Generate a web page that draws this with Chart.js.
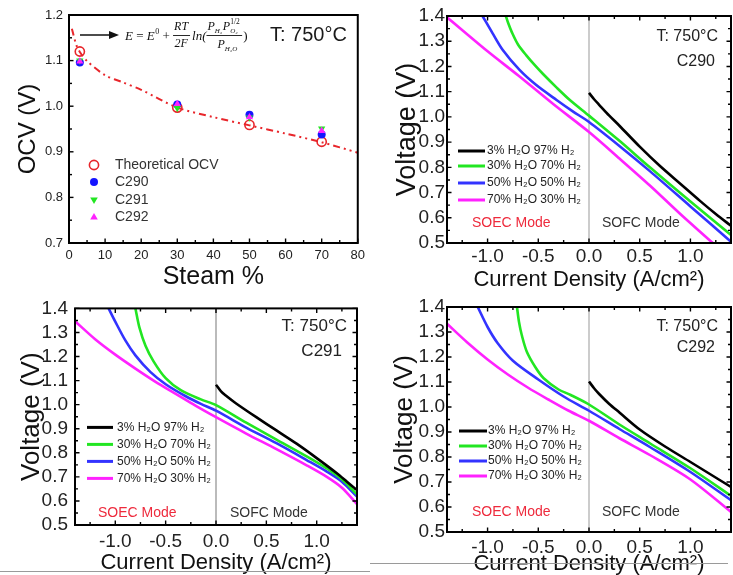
<!DOCTYPE html>
<html>
<head>
<meta charset="utf-8">
<script src="https://cdn.jsdelivr.net/npm/chart.js@4.4.0/dist/chart.umd.min.js"></script>
<style>
html, body { margin: 0; padding: 0; background: #fff; }
body { width: 733px; height: 575px; position: relative; overflow: hidden; }
.panel { position: absolute; }
#p1 { left: 0; top: 0; width: 370px; height: 290px; }
#p2 { left: 370px; top: 0; width: 363px; height: 300px; }
#p3 { left: 0; top: 290px; width: 370px; height: 285px; }
#p4 { left: 370px; top: 290px; width: 363px; height: 285px; }
.rule { position: absolute; height: 1px; background: #9a9a9a; }
</style>
</head>
<body>
<div class="panel" id="p1"><canvas id="c1"></canvas></div>
<div class="panel" id="p2"><canvas id="c2"></canvas></div>
<div class="panel" id="p3"><canvas id="c3"></canvas></div>
<div class="panel" id="p4"><canvas id="c4"></canvas></div>
<div class="rule" style="left:0;top:571px;width:370px"></div>
<div class="rule" style="left:370px;top:563px;width:358px"></div>
<script>
// ---- OCV vs steam (top left) ----
const steamPct  = [3, 30, 50, 70];
const ocvTheory = [1.120, 0.997, 0.959, 0.922];
const ocvC290   = [1.096, 1.004, 0.981, 0.938];
const ocvC291   = [1.100, 0.996, 0.975, 0.951];
const ocvC292   = [1.098, 1.005, 0.976, 0.946];
// dash-dot theoretical line
const theoryLineX = [0.8, 2, 3, 5, 10, 15, 20, 30, 40, 50, 60, 70, 80];
const theoryLineV = [1.170, 1.135, 1.119, 1.099, 1.068, 1.052, 1.036, 0.997, 0.976, 0.958, 0.940, 0.921, 0.898];
const steamTicks = [0, 10, 20, 30, 40, 50, 60, 70, 80];
const ocvTicks = [0.7, 0.8, 0.9, 1.0, 1.1, 1.2];

// ---- I-V curves, [current density, voltage] ----
const c290_h2o3  = [[0,1.095],[0.05,1.07],[0.1,1.048],[0.2,1.005],[0.3,0.965],[0.5,0.882],[0.7,0.805],[0.9,0.735],[1.1,0.665],[1.25,0.615],[1.4,0.568]];
const c290_h2o30 = [[-0.82,1.4],[-0.795,1.37],[-0.76,1.335],[-0.7,1.287],[-0.62,1.245],[-0.53,1.203],[-0.453,1.17],[-0.321,1.117],[-0.189,1.067],[0,1.005],[0.3,0.905],[0.6,0.8],[1.0,0.665],[1.4,0.532]];
const c290_h2o50 = [[-1.05,1.4],[-0.95,1.331],[-0.85,1.265],[-0.685,1.186],[-0.52,1.126],[-0.32,1.067],[-0.16,1.022],[0,0.98],[0.3,0.885],[0.6,0.785],[1.0,0.645],[1.4,0.505]];
const c290_h2o70 = [[-1.4,1.395],[-1.0,1.26],[-0.7,1.165],[-0.35,1.05],[0,0.94],[0.3,0.835],[0.6,0.728],[0.9,0.615],[1.22,0.5],[1.3,0.47]];

const c291_h2o3  = [[0,1.083],[0.05,1.055],[0.1,1.037],[0.2,1.005],[0.4,0.948],[0.6,0.893],[0.8,0.838],[1.0,0.778],[1.2,0.715],[1.3,0.68],[1.4,0.645]];
const c291_h2o30 = [[-0.8,1.4],[-0.76,1.32],[-0.7,1.245],[-0.62,1.18],[-0.5,1.11],[-0.35,1.06],[-0.15,1.022],[0,0.998],[0.3,0.925],[0.6,0.855],[0.9,0.785],[1.1,0.735],[1.25,0.69],[1.4,0.627]];
const c291_h2o50 = [[-1.066,1.4],[-1.0,1.345],[-0.9,1.267],[-0.8,1.205],[-0.65,1.135],[-0.5,1.085],[-0.3,1.035],[-0.15,1.003],[0,0.975],[0.3,0.905],[0.6,0.84],[0.9,0.77],[1.1,0.722],[1.25,0.68],[1.4,0.618]];
const c291_h2o70 = [[-1.4,1.347],[-1.2,1.272],[-1.0,1.208],[-0.8,1.15],[-0.6,1.095],[-0.4,1.045],[-0.2,0.995],[0,0.948],[0.3,0.88],[0.6,0.815],[0.9,0.748],[1.1,0.7],[1.25,0.655],[1.4,0.587]];

const c292_h2o3  = [[0,1.102],[0.05,1.075],[0.1,1.052],[0.2,1.012],[0.3,0.978],[0.5,0.91],[0.75,0.842],[1.0,0.78],[1.2,0.73],[1.4,0.68]];
const c292_h2o30 = [[-0.71,1.4],[-0.69,1.34],[-0.663,1.288],[-0.613,1.221],[-0.53,1.16],[-0.447,1.115],[-0.3,1.07],[-0.18,1.048],[0,1.01],[0.3,0.93],[0.6,0.855],[1.0,0.755],[1.4,0.645]];
const c292_h2o50 = [[-1.097,1.4],[-1.0,1.32],[-0.9,1.255],[-0.75,1.185],[-0.5,1.11],[-0.25,1.042],[0,0.985],[0.3,0.912],[0.6,0.84],[1.0,0.74],[1.4,0.627]];
const c292_h2o70 = [[-1.4,1.333],[-1.2,1.258],[-1.0,1.19],[-0.8,1.13],[-0.6,1.077],[-0.4,1.03],[-0.2,0.985],[0,0.945],[0.3,0.875],[0.6,0.808],[1.0,0.71],[1.4,0.58]];

const ivLabels = ['3% H₂O 97% H₂', '30% H₂O 70% H₂', '50% H₂O 50% H₂', '70% H₂O 30% H₂'];
const ivColors = ['#000000', '#22e622', '#3333ff', '#ff22ff'];
const currentTicks = [-1.0, -0.5, 0.0, 0.5, 1.0];
const voltageTicks = [0.5, 0.6, 0.7, 0.8, 0.9, 1.0, 1.1, 1.2, 1.3, 1.4];

const SANS = 'Arial, "Liberation Sans", sans-serif';
const SERIF = '"Liberation Serif", "Times New Roman", serif';
const RED = '#e8262b';
Chart.defaults.font.family = SANS;

// frame round the plot area, inward ticks, optional line at j = 0
const framePlugin = {
  id: 'frame',
  beforeDatasetsDraw(chart, args, opts) {
    if (!opts.zero) return;
    const { ctx, chartArea: a, scales: { x } } = chart;
    const px = x.getPixelForValue(0);
    ctx.save();
    ctx.strokeStyle = opts.zeroColor;
    ctx.lineWidth = opts.zeroWidth;
    ctx.beginPath(); ctx.moveTo(px, a.top); ctx.lineTo(px, a.bottom); ctx.stroke();
    ctx.restore();
  },
  afterDraw(chart, args, opts) {
    const { ctx, chartArea: a, scales: { x, y } } = chart;
    ctx.save();
    ctx.strokeStyle = '#000';
    ctx.lineWidth = 1.4;
    function marks(scale, horiz) {
      const vals = scale.ticks.map(t => t.value);
      const half = (vals[1] - vals[0]) / 2;
      let v = vals[0];
      while (v - half >= scale.min - 1e-9) v -= half;
      for (; v <= scale.max + 1e-9; v += half) {
        const major = vals.some(t => Math.abs(t - v) < 1e-6);
        const len = major ? 4.5 : 3;
        const p = scale.getPixelForValue(v);
        ctx.beginPath();
        if (horiz) {
          ctx.moveTo(p, a.bottom); ctx.lineTo(p, a.bottom - len);
          if (opts.allSides) { ctx.moveTo(p, a.top); ctx.lineTo(p, a.top + len); }
        } else {
          ctx.moveTo(a.left, p); ctx.lineTo(a.left + len, p);
          if (opts.allSides) { ctx.moveTo(a.right, p); ctx.lineTo(a.right - len, p); }
        }
        ctx.stroke();
      }
    }
    marks(x, true);
    marks(y, false);
    ctx.lineWidth = 2;
    ctx.strokeRect(a.left, a.top, a.right - a.left, a.bottom - a.top);
    ctx.restore();
  }
};

function drawMarker(ctx, style, x, y, r, color) {
  ctx.save();
  ctx.strokeStyle = color;
  ctx.fillStyle = color;
  ctx.beginPath();
  if (style === 'open') {
    ctx.lineWidth = 1.6;
    ctx.arc(x, y, r, 0, Math.PI * 2);
    ctx.stroke();
  } else if (style === 'circle') {
    ctx.arc(x, y, r, 0, Math.PI * 2);
    ctx.fill();
  } else {
    const s = style === 'down' ? -1 : 1;
    ctx.moveTo(x, y - s * r);
    ctx.lineTo(x + r * 0.95, y + s * r * 0.6);
    ctx.lineTo(x - r * 0.95, y + s * r * 0.6);
    ctx.closePath();
    ctx.fill();
  }
  ctx.restore();
}

// text pieces of the OCV panel: equation, temperature, legend
const ocvText = {
  id: 'ocvText',
  afterDraw(chart) {
    const ctx = chart.ctx;
    ctx.save();
    ctx.fillStyle = '#111';
    ctx.strokeStyle = '#111';
    // arrow
    ctx.lineWidth = 1.5;
    ctx.beginPath(); ctx.moveTo(80, 35); ctx.lineTo(112, 35); ctx.stroke();
    ctx.beginPath(); ctx.moveTo(119, 35); ctx.lineTo(109, 31); ctx.lineTo(109, 39); ctx.closePath(); ctx.fill();
    // equation
    ctx.textBaseline = 'alphabetic';
    ctx.textAlign = 'left';
    function put(t, x, y, size, italic) {
      ctx.font = (italic ? 'italic ' : '') + size + 'px ' + SERIF;
      ctx.fillText(t, x, y);
      return x + ctx.measureText(t).width;
    }
    let cx = put('E', 125, 40, 13, true);
    cx = put(' = ', cx, 40, 13, false);
    cx = put('E', cx, 40, 13, true);
    cx = put('0', cx + 0.5, 34, 8, false);
    cx = put(' + ', cx, 40, 13, false);
    put('RT', cx + 1, 30, 12, true);
    put('2F', cx + 1.5, 47, 12, true);
    ctx.lineWidth = 0.9;
    ctx.beginPath(); ctx.moveTo(cx, 35.5); ctx.lineTo(cx + 17, 35.5); ctx.stroke();
    cx = put('ln(', cx + 19, 40, 13, true);
    const fx = cx;
    let nx = put('P', fx + 1, 30, 12, true);
    nx = put('H₂', nx, 33, 7, true);
    nx = put('P', nx + 0.5, 30, 12, true);
    const sx = nx;
    put('1/2', sx, 24, 7.5, false);
    put('O₂', sx, 33, 7, true);
    const dx = put('P', fx + 11, 48, 12, true);
    put('H₂O', dx, 51, 7, true);
    ctx.beginPath(); ctx.moveTo(fx, 35.5); ctx.lineTo(sx + 12, 35.5); ctx.stroke();
    put(')', sx + 13, 40, 13, false);
    // temperature
    ctx.font = '20px ' + SANS;
    ctx.textBaseline = 'middle';
    ctx.fillStyle = '#1a1a1a';
    ctx.fillText('T: 750°C', 270, 35);
    // legend
    const rows = [
      ['Theoretical OCV', 'open', RED, 165],
      ['C290', 'circle', '#1414ff', 182],
      ['C291', 'down', '#22e622', 200],
      ['C292', 'up', '#ff22ff', 217]
    ];
    ctx.font = '14px ' + SANS;
    rows.forEach(r => {
      drawMarker(ctx, r[1], 94, r[3], r[1] === 'open' ? 4.6 : 4, r[2]);
      ctx.fillStyle = '#333';
      ctx.fillText(r[0], 115, r[3]);
    });
    ctx.restore();
  }
};

const pts = (xs, ys) => xs.map((x, i) => ({ x: x, y: ys[i] }));
const noGrid = { display: false, drawTicks: false };

new Chart(document.getElementById('c1'), {
  type: 'scatter',
  data: {
    datasets: [
      { label: 'Theoretical OCV', data: pts(steamPct, ocvTheory), pointStyle: 'circle', pointRadius: 4.6,
        pointBorderWidth: 1.6, borderColor: RED, backgroundColor: 'rgba(0,0,0,0)', order: 4 },
      { label: 'C290', data: pts(steamPct, ocvC290), pointStyle: 'circle', pointRadius: 4,
        pointBorderWidth: 0, borderColor: '#1414ff', backgroundColor: '#1414ff', order: 3 },
      { label: 'C291', data: pts(steamPct, ocvC291), pointStyle: 'triangle', rotation: 180, pointRadius: 4.2,
        pointBorderWidth: 0, borderColor: '#22e622', backgroundColor: '#22e622', order: 2 },
      { label: 'C292', data: pts(steamPct, ocvC292), pointStyle: 'triangle', pointRadius: 4.2,
        pointBorderWidth: 0, borderColor: '#ff22ff', backgroundColor: '#ff22ff', order: 1 },
      { label: 'fit', data: pts(theoryLineX, theoryLineV), showLine: true, borderColor: RED, borderWidth: 2,
        borderDash: [7, 4, 2, 4, 2, 4], pointRadius: 0, tension: 0.3, order: 9, clip: 0 }
    ]
  },
  options: {
    animation: false,
    responsive: true,
    maintainAspectRatio: false,
    layout: { padding: { left: 0, top: 15, right: 11, bottom: 0 } },
    plugins: { legend: { display: false }, tooltip: { enabled: false }, frame: { zero: false, allSides: false } },
    scales: {
      x: {
        type: 'linear', min: 0, max: 80,
        afterFit: s => { s.height = 47; },
        afterBuildTicks: s => { s.ticks = steamTicks.map(v => ({ value: v })); },
        grid: noGrid, border: { display: false },
        ticks: { padding: 5, color: '#222', font: { size: 13 }, maxRotation: 0, autoSkip: false },
        title: { display: true, text: 'Steam %', color: '#111', font: { size: 25, lineHeight: 1 }, padding: { top: 0, bottom: 0 } }
      },
      y: {
        type: 'linear', min: 0.7, max: 1.2,
        afterFit: s => { s.width = 69; },
        afterBuildTicks: s => { s.ticks = ocvTicks.map(v => ({ value: v })); },
        grid: noGrid, border: { display: false },
        ticks: { padding: 6, color: '#222', font: { size: 13 }, callback: v => v.toFixed(1) },
        title: { display: true, text: 'OCV (V)', color: '#111', font: { size: 24 }, padding: { top: 14, bottom: 0 } }
      }
    }
  },
  plugins: [framePlugin, ocvText]
});

function ivPanel(canvasId, cell, curves, L) {
  const ivText = {
    id: 'ivText',
    afterDraw(chart) {
      const { ctx, chartArea: a, scales: { x } } = chart;
      const x0 = x.getPixelForValue(0);
      ctx.save();
      ctx.textBaseline = 'middle';
      ctx.textAlign = 'right';
      ctx.fillStyle = '#222';
      ctx.font = L.tSize + 'px ' + SANS;
      ctx.fillText('T: 750°C', a.right - L.tRight, a.top + L.tTop);
      ctx.fillText(cell, a.right - L.cRight, a.top + L.cTop);
      ctx.textAlign = 'left';
      ctx.font = '12px ' + SANS;
      ivLabels.forEach((lab, i) => {
        const yy = a.top + L.ly[i];
        ctx.strokeStyle = ivColors[i];
        ctx.lineWidth = 3;
        ctx.beginPath(); ctx.moveTo(a.left + L.lx0, yy); ctx.lineTo(a.left + L.lx1, yy); ctx.stroke();
        ctx.fillStyle = '#222';
        ctx.fillText(lab, a.left + L.tx, yy);
      });
      ctx.font = '14px ' + SANS;
      ctx.fillStyle = '#ee2a3c';
      ctx.fillText('SOEC Mode', a.left + L.soecX, a.top + L.modeY);
      ctx.fillStyle = '#333';
      ctx.fillText('SOFC Mode', x0 + L.sofcDx, a.top + L.modeY);
      ctx.restore();
    }
  };
  new Chart(document.getElementById(canvasId), {
    type: 'line',
    data: {
      datasets: curves.map((c, i) => ({
        label: ivLabels[i],
        data: c.map(p => ({ x: p[0], y: p[1] })),
        borderColor: ivColors[i],
        borderWidth: 2.6,
        pointRadius: 0,
        tension: 0.3,
        clip: 0
      }))
    },
    options: {
      animation: false,
      responsive: true,
      maintainAspectRatio: false,
      layout: { padding: { left: 0, top: L.top, right: L.right, bottom: 0 } },
      plugins: {
        legend: { display: false }, tooltip: { enabled: false },
        frame: { zero: true, allSides: true, zeroColor: L.zeroColor, zeroWidth: L.zeroWidth }
      },
      scales: {
        x: {
          type: 'linear', min: -1.4, max: 1.4,
          afterFit: s => { s.height = L.xh; },
          afterBuildTicks: s => { s.ticks = currentTicks.map(v => ({ value: v })); },
          grid: noGrid, border: { display: false },
          ticks: { padding: L.xpad, color: '#222', font: { size: 19 }, maxRotation: 0, autoSkip: false, callback: v => v.toFixed(1) },
          title: { display: true, text: 'Current Density (A/cm²)', color: '#111', font: { size: 22, lineHeight: 1 }, padding: { top: 0, bottom: L.xtp } }
        },
        y: {
          type: 'linear', min: 0.5, max: 1.4,
          afterFit: s => { s.width = L.yw; },
          afterBuildTicks: s => { s.ticks = voltageTicks.map(v => ({ value: v })); },
          grid: noGrid, border: { display: false },
          ticks: { padding: L.ypad, color: '#222', font: { size: 19 }, autoSkip: false, callback: v => v.toFixed(1) },
          title: { display: true, text: 'Voltage (V)', color: '#111', font: { size: L.ytSize }, padding: { top: L.ytp, bottom: 0 } }
        }
      }
    },
    plugins: [framePlugin, ivText]
  });
}

ivPanel('c2', 'C290', [c290_h2o3, c290_h2o30, c290_h2o50, c290_h2o70], {
  top: 16, right: 2, yw: 77, xh: 57, xpad: 2, ypad: 2, xtp: 9, ytp: 21, ytSize: 27,
  zeroColor: '#999', zeroWidth: 1,
  tSize: 16, tRight: 13, tTop: 21, cRight: 16, cTop: 46,
  lx0: 11, lx1: 38, tx: 40, ly: [135, 150, 167, 184], soecX: 25, modeY: 207, sofcDx: 13
});
ivPanel('c3', 'C291', [c291_h2o3, c291_h2o30, c291_h2o50, c291_h2o70], {
  top: 10, right: 13, yw: 75, xh: 50, xpad: 5, ypad: 7, xtp: 1, ytp: 16, ytSize: 26,
  zeroColor: '#bbb', zeroWidth: 2,
  tSize: 17, tRight: 10, tTop: 18, cRight: 15, cTop: 43,
  lx0: 12, lx1: 38, tx: 42, ly: [119, 136, 153, 170], soecX: 23, modeY: 205, sofcDx: 14
});
ivPanel('c4', 'C292', [c292_h2o3, c292_h2o30, c292_h2o50, c292_h2o70], {
  top: 17, right: 2, yw: 77, xh: 43, xpad: 4, ypad: 2, xtp: 0, ytp: 19, ytSize: 26,
  zeroColor: '#999', zeroWidth: 1,
  tSize: 16, tRight: 13, tTop: 20, cRight: 16, cTop: 41,
  lx0: 12, lx1: 40, tx: 41, ly: [124, 139, 154, 169], soecX: 25, modeY: 205, sofcDx: 13
});
</script>
</body>
</html>
